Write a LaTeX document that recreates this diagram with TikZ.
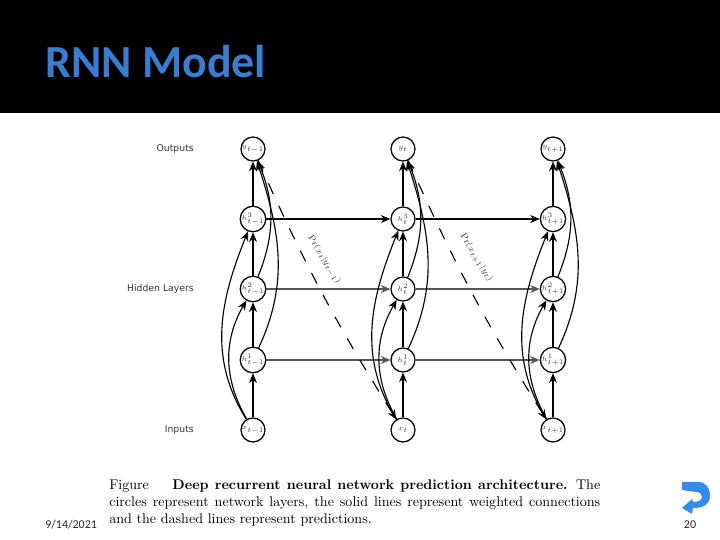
\documentclass[tikz,border=0pt]{standalone}
\usepackage{amsmath}
\usepackage{fontspec}
\usepackage{xcolor}
\newfontfamily\titlefont{Carlito}
\newfontfamily\labelfont{DejaVu Sans}
\definecolor{rnnblue}{RGB}{58,124,208}
\definecolor{rnnicon}{RGB}{50,140,235}
\definecolor{rnngray}{RGB}{85,85,85}
\usetikzlibrary{arrows.meta, positioning, calc}
\tikzset{
  unit/.style={circle, draw=black, line width=0.9pt, fill=white, minimum size=0.6cm, inner sep=0pt, font=\fontsize{4.4}{5}\selectfont, text=black!75},
  sidelabel/.style={anchor=east, inner sep=0pt, font=\labelfont\fontsize{6.6}{8}\selectfont, text=black!80},
  link/.style={-{Stealth[length=2.4mm,width=2mm]}, line width=0.8pt, black},
  rowlink/.style={link, line width=1.3pt, rnngray},
  predict/.style={link, dash pattern=on 8.5pt off 9.2pt},
}
\begin{document}
\begin{tikzpicture}
  \useasboundingbox (0,0) rectangle (18,13.5);

  % --- Header ---
  \fill[black] (0,10.675) rectangle (18,13.5);
  \node[anchor=base west, inner sep=0pt, rnnblue, font=\titlefont\bfseries\fontsize{32.7}{36}\selectfont] (title) at (1.125,11.55) {RNN Model};

  % --- Side labels ---
  \node[sidelabel] (outputs) at (4.85,9.78) {Outputs};
  \node[sidelabel] (hidden) at (4.85,6.28) {Hidden Layers};
  \node[sidelabel] (inputs) at (4.85,2.75) {Inputs};

  % Column t-1
  \node[unit] (y1) at (6.325,9.775) {$y_{t-1}$};
  \node[unit] (h31) at (6.325,8.025) {$h^3_{t-1}$};
  \node[unit] (h21) at (6.325,6.275) {$h^2_{t-1}$};
  \node[unit] (h11) at (6.325,4.5) {$h^1_{t-1}$};
  \node[unit] (x1) at (6.325,2.75) {$x_{t-1}$};

  % Column t
  \node[unit] (y2) at (10.075,9.775) {$y_t$};
  \node[unit] (h32) at (10.075,8.025) {$h^3_t$};
  \node[unit] (h22) at (10.075,6.275) {$h^2_t$};
  \node[unit] (h12) at (10.075,4.5) {$h^1_t$};
  \node[unit] (x2) at (10.075,2.75) {$x_t$};

  % Column t+1
  \node[unit] (y3) at (13.825,9.775) {$y_{t+1}$};
  \node[unit] (h33) at (13.825,8.025) {$h^3_{t+1}$};
  \node[unit] (h23) at (13.825,6.275) {$h^2_{t+1}$};
  \node[unit] (h13) at (13.825,4.5) {$h^1_{t+1}$};
  \node[unit] (x3) at (13.825,2.75) {$x_{t+1}$};

  % Straight links, column t-1
  \draw[link] (x1) -- (h11);
  \draw[link] (h11) -- (h21);
  \draw[link] (h21) -- (h31);
  \draw[link] (h31) -- (y1);

  % Straight links, column t
  \draw[link] (x2) -- (h12);
  \draw[link] (h12) -- (h22);
  \draw[link] (h22) -- (h32);
  \draw[link] (h32) -- (y2);

  % Straight links, column t+1
  \draw[link] (x3) -- (h13);
  \draw[link] (h13) -- (h23);
  \draw[link] (h23) -- (h33);
  \draw[link] (h33) -- (y3);

  % Links through time
  \draw[link] (h31) -- (h32);
  \draw[link] (h32) -- (h33);
  \draw[rowlink] (h21) -- (h22);
  \draw[rowlink] (h22) -- (h23);
  \draw[rowlink] (h11) -- (h12);
  \draw[rowlink] (h12) -- (h13);

  % Skip links, column t-1
  \draw[link] (x1) to[out=120, in=-120] (h21);
  \draw[link] (x1) to[out=122, in=-112] (h31);
  \draw[link] (h21) to[out=68, in=-68] (y1);
  \draw[link] (h11) to[out=65, in=-72] (y1);

  % Skip links, column t
  \draw[link] (x2) to[out=120, in=-120] (h22);
  \draw[link] (x2) to[out=122, in=-112] (h32);
  \draw[link] (h22) to[out=68, in=-68] (y2);
  \draw[link] (h12) to[out=65, in=-72] (y2);

  % Skip links, column t+1
  \draw[link] (x3) to[out=120, in=-120] (h23);
  \draw[link] (x3) to[out=122, in=-112] (h33);
  \draw[link] (h23) to[out=68, in=-68] (y3);
  \draw[link] (h13) to[out=65, in=-72] (y3);

  % Predictions
  \draw[predict] (y1) to[bend right=4] (x2);
  \draw[predict] (y2) to[bend right=4] (x3);
  \node[rotate=-58, inner sep=0pt, font=\fontsize{6.5}{8}\selectfont, text=black!80] (prob1) at (8.1,7.0) {$\Pr(x_t|y_{t-1})$};
  \node[rotate=-58, inner sep=0pt, font=\fontsize{6.5}{8}\selectfont, text=black!80] (prob2) at (11.9,7.05) {$\Pr(x_{t+1}|y_t)$};

  % --- Caption ---
  \node[anchor=north west, inner sep=0pt, text width=12.275cm, align=justify, font=\fontsize{10}{12.4}\selectfont] (caption) at (2.725,1.525)
    {Figure \hspace{0.9em} \textbf{Deep recurrent neural network prediction architecture.} The\linebreak circles represent network layers, the solid lines represent weighted connections and the dashed lines represent predictions.};

  % --- Footer ---
  \node[anchor=base west, inner sep=0pt, font=\titlefont\fontsize{8.5}{10}\selectfont, text=black!85] (date) at (1.125,0.3) {9/14/2021};
  \node[anchor=base, inner sep=0pt, font=\titlefont\fontsize{8.5}{10}\selectfont, text=black!85] (page) at (17.25,0.3) {20};
  \fill[rnnicon] (17.05,1.45) -- (17.45,1.45) .. controls (17.65,1.45) and (17.75,1.3) .. (17.75,1.1)
    .. controls (17.75,0.9) and (17.6,0.8) .. (17.325,0.8) -- (17.3,0.65) -- (17.05,0.8) -- (17.3,1.025) -- (17.325,0.95)
    .. controls (17.45,0.95) and (17.55,1) .. (17.55,1.075) .. controls (17.55,1.15) and (17.5,1.2) .. (17.4,1.2) -- (17.05,1.25) -- cycle;
\end{tikzpicture}
\end{document}
